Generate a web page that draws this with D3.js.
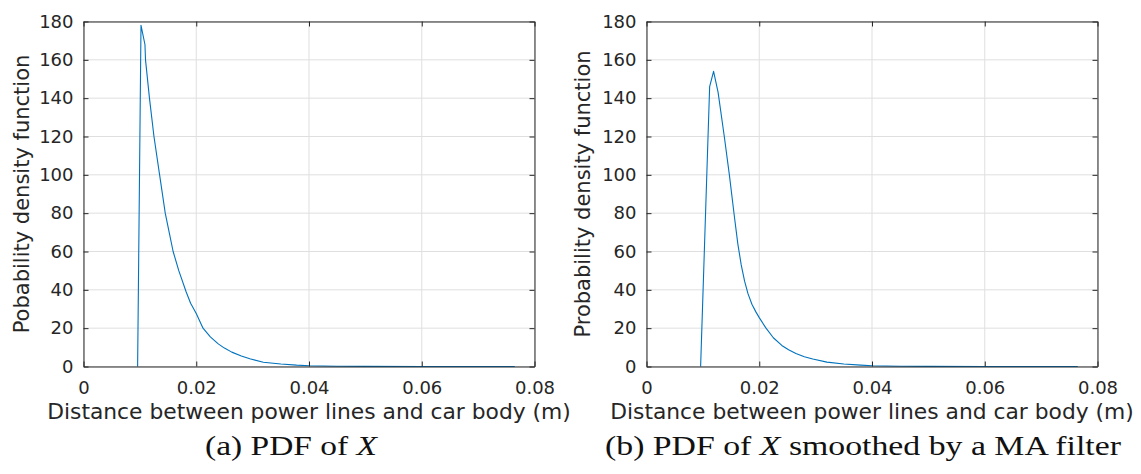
<!DOCTYPE html>
<html><head><meta charset="utf-8">
<script src="https://cdn.jsdelivr.net/npm/d3@7"></script>
<style>body{margin:0;background:#fff}svg{display:block}</style></head>
<body><svg id="c" width="1141" height="474"></svg>
<script>
// ---- data ----
const xTicks = [0, 0.02, 0.04, 0.06, 0.08];
const xTickLabels = ["0", "0.02", "0.04", "0.06", "0.08"];
const yTicks = [0, 20, 40, 60, 80, 100, 120, 140, 160, 180];
const yTickLabels = ["0", "20", "40", "60", "80", "100", "120", "140", "160", "180"];

// (a) PDF of X
const pdfDist = [0.0096, 0.0102, 0.0109, 0.0110, 0.0117, 0.0125, 0.0135, 0.0145, 0.0152, 0.0159, 0.0169, 0.0182, 0.0190, 0.0200, 0.0212, 0.0225, 0.0239, 0.0250, 0.0263, 0.0280, 0.0295, 0.0319, 0.0350, 0.0378, 0.0400, 0.0450, 0.0500, 0.0600, 0.0765];
const pdfVal  = [0, 178, 168, 160, 140, 120, 100, 80, 70, 60, 50, 39, 33, 27.6, 20, 15.5, 11.8, 9.6, 7.5, 5.5, 4.0, 2.2, 1.3, 0.7, 0.4, 0.15, 0.05, 0.01, 0];

// (b) PDF of X smoothed by a MA filter
const maDist = [0.0096, 0.0112, 0.0119, 0.0127, 0.0138, 0.0147, 0.0156, 0.0162, 0.0168, 0.0174, 0.0180, 0.0187, 0.0194, 0.0200, 0.0212, 0.0225, 0.0240, 0.0252, 0.0265, 0.0280, 0.0295, 0.0320, 0.0350, 0.0380, 0.0400, 0.0450, 0.0500, 0.0600, 0.0765];
const maVal  = [0, 146, 154, 143, 120, 100, 78, 64, 53, 44.5, 38, 32.5, 28.5, 25.5, 20, 15, 11, 8.7, 6.8, 5.1, 3.9, 2.3, 1.3, 0.7, 0.4, 0.15, 0.05, 0.01, 0];

const yLabels = ["Pobability density function", "Probability density function"];
const xLabel = "Distance between power lines and car body (m)";
const captions = [
  [["(a) PDF of ", false], ["X", true]],
  [["(b) PDF of ", false], ["X", true], [" smoothed by a MA filter", false]]
];

// ---- drawing ----
const svg = d3.select("#c");
const panels = [
  {x0: 83.5, x1: 534.5, xs: pdfDist, ys: pdfVal, ylab: yLabels[0], ylabX: 28.5, cap: captions[0], capX: 291, capW: 172},
  {x0: 646.5, x1: 1097.5, xs: maDist, ys: maVal, ylab: yLabels[1], ylabX: 590, cap: captions[1], capX: 863, capW: 516}
];
const yTop = 21.5, yBot = 366.5;
const axisCol = "#262626";
const tickFont = "'DejaVu Sans', sans-serif";

panels.forEach(p => {
  const x = d3.scaleLinear().domain([0, 0.08]).range([p.x0, p.x1]);
  const y = d3.scaleLinear().domain([0, 180]).range([yBot, yTop]);
  const g = svg.append("g");

  // grid
  g.append("g").selectAll("line").data(xTicks).join("line")
    .attr("x1", d => x(d)).attr("x2", d => x(d)).attr("y1", yTop).attr("y2", yBot)
    .attr("stroke", "#dfdfdf").attr("stroke-width", 1);
  g.append("g").selectAll("line").data(yTicks).join("line")
    .attr("y1", d => y(d)).attr("y2", d => y(d)).attr("x1", p.x0).attr("x2", p.x1)
    .attr("stroke", "#dfdfdf").attr("stroke-width", 1);

  // line
  const line = d3.line().x(d => x(d[0])).y(d => y(d[1]));
  g.append("path").datum(p.xs.map((v, i) => [v, p.ys[i]]))
    .attr("d", line).attr("fill", "none").attr("stroke", "#0072BD").attr("stroke-width", 1.1)
    .attr("stroke-linejoin", "round");

  // axes (MATLAB-like box with inward ticks)
  const tl = 5;
  const bottom = d3.axisBottom(x).tickValues(xTicks).tickFormat((d, i) => xTickLabels[i]).tickSizeInner(-tl).tickSizeOuter(0).tickPadding(15);
  const top = d3.axisTop(x).tickValues(xTicks).tickFormat("").tickSizeInner(-tl).tickSizeOuter(0);
  const left = d3.axisLeft(y).tickValues(yTicks).tickFormat((d, i) => yTickLabels[i]).tickSizeInner(-tl).tickSizeOuter(0).tickPadding(10);
  const right = d3.axisRight(y).tickValues(yTicks).tickFormat("").tickSizeInner(-tl).tickSizeOuter(0);

  const styleAxis = sel => {
    sel.selectAll("path.domain").attr("stroke", axisCol).attr("stroke-width", 1);
    sel.selectAll(".tick line").attr("stroke", axisCol).attr("stroke-width", 1);
    sel.selectAll("text").attr("fill", axisCol).style("font-family", tickFont).style("font-size", "18px");
  };
  g.append("g").attr("transform", `translate(0,${yBot})`).call(bottom).call(styleAxis);
  g.append("g").attr("transform", `translate(0,${yTop})`).call(top).call(styleAxis);
  g.append("g").attr("transform", `translate(${p.x0},0)`).call(left).call(styleAxis);
  g.append("g").attr("transform", `translate(${p.x1},0)`).call(right).call(styleAxis);

  // axis labels
  g.append("text").attr("x", (p.x0 + p.x1) / 2).attr("y", 419)
    .attr("text-anchor", "middle").attr("fill", axisCol)
    .style("font-family", tickFont).style("font-size", "21.8px").text(xLabel);
  g.append("text").attr("transform", `translate(${p.ylabX},${(yTop + yBot) / 2}) rotate(-90)`)
    .attr("text-anchor", "middle").attr("fill", axisCol)
    .style("font-family", tickFont).style("font-size", "21px").text(p.ylab);

  // caption
  const t = svg.append("text").attr("x", p.capX).attr("y", 455).attr("text-anchor", "middle")
    .attr("textLength", p.capW).attr("lengthAdjust", "spacingAndGlyphs")
    .attr("fill", "#111").style("font-family", "'Liberation Serif', serif").style("font-size", "28px");
  p.cap.forEach(([s, it]) => t.append("tspan").style("font-style", it ? "italic" : "normal").text(s));
});
</script>
</body></html>
